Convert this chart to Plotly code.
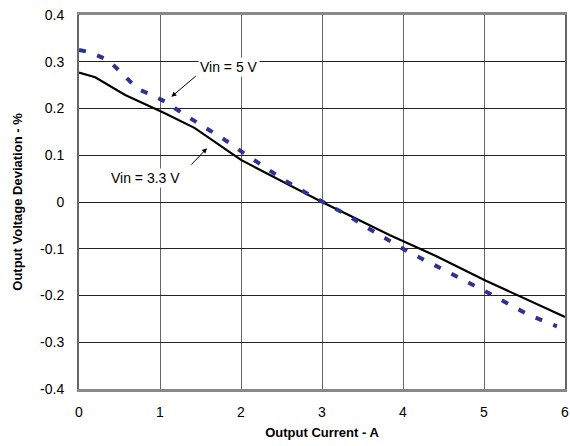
import plotly.graph_objects as go

# Vin = 5 V (dashed blue)
i_5v = [0.0, 0.12, 0.36, 0.53, 0.65, 0.73, 0.86, 1.06, 1.31, 1.56, 1.8, 2.03,
        2.28, 2.54, 2.8, 3.06, 3.3, 3.55, 3.81, 4.05, 4.31, 4.56, 4.81, 5.05,
        5.3, 5.55, 5.81, 5.9]
dev_5v = [0.325, 0.321, 0.304, 0.275, 0.257, 0.241, 0.232, 0.215, 0.186, 0.16,
          0.133, 0.105, 0.077, 0.046, 0.02, -0.005, -0.027, -0.054, -0.081,
          -0.105, -0.128, -0.15, -0.173, -0.194, -0.218, -0.241, -0.26, -0.266]

# Vin = 3.3 V (solid black)
i_33v = [0.0, 0.2, 0.57, 0.94, 1.06, 1.43, 2.0, 3.0, 3.84, 4.4, 5.03, 6.0]
dev_33v = [0.277, 0.267, 0.229, 0.199, 0.19, 0.158, 0.09, 0.0, -0.071, -0.115,
           -0.169, -0.246]

x_ticks = [0, 1, 2, 3, 4, 5, 6]
y_ticks = [0.4, 0.3, 0.2, 0.1, 0, -0.1, -0.2, -0.3, -0.4]
y_labels = ['0.4', '0.3', '0.2', '0.1', '0', '-0.1', '-0.2', '-0.3', '-0.4']

fig = go.Figure()
fig.add_trace(go.Scatter(x=i_33v, y=dev_33v, mode='lines',
                         line=dict(color='black', width=2.2)))
fig.add_trace(go.Scatter(x=i_5v, y=dev_5v, mode='lines',
                         line=dict(color='#2E3192', width=4, dash='7px,12px')))

arrow = dict(showarrow=True, arrowhead=2, arrowsize=1, arrowwidth=1,
             arrowcolor='black', xref='x', yref='y', axref='x', ayref='y')
fig.add_annotation(x=1.14, y=0.225, ax=1.46, ay=0.272, text='', **arrow)
fig.add_annotation(x=1.58, y=0.115, ax=1.37, ay=0.077, text='', **arrow)
fig.add_annotation(x=1.85, y=0.289, text='Vin = 5 V', showarrow=False,
                   bgcolor='white', font=dict(size=14))
fig.add_annotation(x=0.82, y=0.051, text='Vin = 3.3 V', showarrow=False,
                   bgcolor='white', font=dict(size=14))

fig.update_layout(
    width=570, height=446,
    margin=dict(l=79, r=5, t=15, b=57),
    plot_bgcolor='white', paper_bgcolor='white',
    showlegend=False,
    font=dict(family='Liberation Sans, Arial', size=14, color='black'),
)
fig.update_xaxes(range=[0, 6], tickvals=x_ticks, showgrid=True,
                 gridcolor='#666666', gridwidth=1, zeroline=False,
                 showline=True, linecolor='#888888', linewidth=3, mirror=True,
                 ticks='outside', ticklen=8, tickcolor='rgba(0,0,0,0)',
                 ticklabeloverflow='allow', automargin=False,
                 title=dict(text='<b>Output Current - A</b>',
                            font=dict(size=13), standoff=10))
fig.update_yaxes(range=[-0.4, 0.4], tickvals=y_ticks, ticktext=y_labels,
                 showgrid=True, gridcolor='#222222', gridwidth=1, zeroline=False,
                 showline=True, linecolor='#666666', linewidth=2, mirror=True,
                 ticks='outside', ticklen=10, tickcolor='rgba(0,0,0,0)',
                 automargin=False,
                 title=dict(text='<b>Output Voltage Deviation - %</b>',
                            font=dict(size=13), standoff=15))

# drop the page's default body margin so the figure sits at the window's corner
fig.write_html('out.html', config={'displayModeBar': False},
               post_script="document.body.style.margin='0';")
